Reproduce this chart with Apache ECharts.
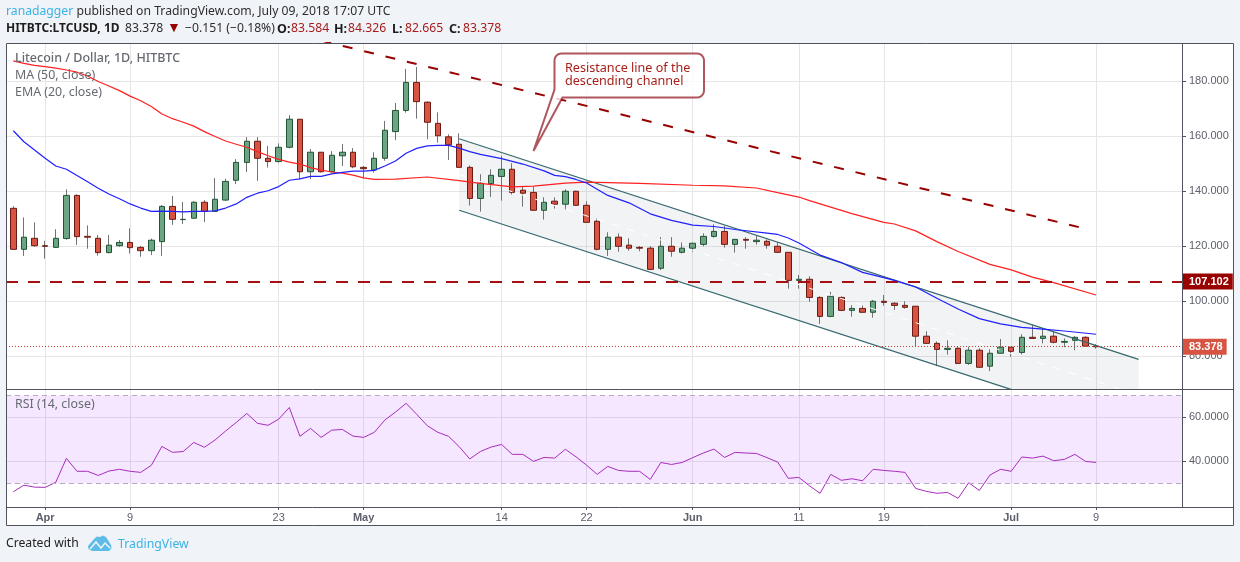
<!DOCTYPE html>
<html>
<head>
<meta charset="utf-8">
<title>LTCUSD</title>
<script src="https://cdn.jsdelivr.net/npm/echarts@6/dist/echarts.min.js"></script>
<style>
  html, body { margin: 0; padding: 0; background: #f0f3f7; }
  #chart { width: 1240px; height: 562px; }
</style>
</head>
<body>
<div id="chart"></div>
<script>
// daily bars, index 0 = Mar 29 2018, index 102 = Jul 9 2018
var opens = [133.7,118.8,122.8,120.1,119.5,122.7,138.4,123.5,122.8,117.6,120.1,121.3,119.5,118.3,121.6,134.4,129.6,130.1,135.9,132.6,136.7,143.9,150.4,158.1,151.9,150.7,155.9,166.1,147,154.1,147,152.8,154.1,148.6,147.7,151.9,161.6,169.3,179.5,172.3,164.6,159.7,157,148.6,137.3,142.7,145.3,147.9,140.3,139.5,133,136.3,135.2,139.9,134.8,129,118.8,123.2,120.3,119.5,119.2,111.9,119.9,117.7,119.2,120.6,123.5,125.3,120.6,122.4,121.6,121.7,119.9,117.7,107.5,107.9,101.3,94.4,101.3,96.6,97.3,95.9,99.9,99.2,98.4,98.1,87.2,84.6,82.4,82.8,77.3,82.1,76.3,81,83.2,81.3,86.8,86.4,87.2,85,85.7,86.8,83.584];
var closes = [118.8,123.2,120.1,119.9,122.8,138.4,123.4,123.2,117.6,120.3,121.3,119.4,118.3,122.1,134.4,129.7,129.7,135.9,132.6,137,143.5,150.4,158.1,151.9,150.7,155.9,166.1,147,154.1,147,153,154.1,148.8,148.1,151.9,162.1,169.3,179.5,172.5,165,160.1,156.8,148.6,137.3,142.8,145.7,147.9,139.5,139.2,133,135.9,135.2,139.9,134.8,128.6,118.8,123.2,119.9,119.2,119.2,111.5,119.9,118.1,119.2,121,123.5,125.3,120.6,122.4,122.1,122.1,120.3,117.7,107.5,107.9,101.3,94.4,101.7,96.6,97.3,95.9,99.9,99.5,98.4,97.7,87.2,84.6,82.4,82.8,77.3,82.1,75.9,81,83.2,81.7,86.8,86.4,87.2,85,85.3,86.8,83.6,83.378];
var lows = [118.8,116.4,119.7,115.4,119.4,122.3,120.4,119,116.5,117.3,119.7,117.3,116.1,116.7,116.4,127.7,128,130,128.7,132.4,136.4,142.5,146.9,143.7,148.5,150.3,155.5,144.3,144.3,146.7,146.8,149.1,148.3,144.5,146.7,151,158.5,168.5,166.3,158.8,157.6,151.3,148.6,134.7,132.5,137.8,136.5,138.7,134.3,132.9,129.6,133.6,133.2,134.7,128.5,118.4,116.4,117.9,118.3,118.1,111.4,111.2,116.1,117.3,117.9,119.9,123,119.4,117.6,119,120.5,119,117.6,104.5,104.5,99.7,91.7,94.1,96.3,94.3,95.7,93.9,98.3,96.8,97.2,83.6,84.6,76.3,80.5,77.3,76.8,75.9,74.5,81,79.7,80.6,86.2,84.6,84.6,83.2,82.1,83.6,82.665];
var highs = [134.5,130.4,128.6,121.9,126.1,140.6,138.8,127.5,124,124,122.2,126.4,120,122.7,134.9,138.2,136,136.3,136.7,144.7,144.5,151.6,159.6,159.6,156.4,157.3,167.6,166.1,155.3,154.1,154.5,157.1,155.6,149.1,154.1,165.5,172,184.4,185.1,172.6,168.6,160.6,161,149.3,146.1,147.9,152.8,150.1,141.6,141.6,137.7,137.7,140.6,140.1,136.3,130.1,125,124.6,122.8,120,120,123.2,123.2,121.3,121.2,124.6,127.9,127.3,122.6,123.2,123.9,122.4,121.3,117.7,109.5,109,101.7,103.3,101.7,98.5,98.5,100.4,102.2,99.5,99.9,98.1,89,85.3,85.7,83.6,83.4,82.8,82.4,86.2,83.2,87.9,91.4,90.1,89,86.4,87.2,87.2,84.326];

var maIndex = [0,1,2,3,4,5,6,7,8,9,10,11,12,13,14,15,16,17,18,19,20,21,22,23,24,25,26,27,28,29,30,31,32,33,34,36,39,42,44,47,49,52,54,59,64,67,70,72,74,75,79,82,83,85,87,89,92,94,96,98,102];
var maValues = [187.3,186.4,185.7,185.2,184.7,184,183.2,181.8,179.8,178.2,176.5,174.5,172.8,170.7,168,166.3,165,163.6,161.6,159.8,158.2,157,155.9,154.3,152.8,151.5,150.5,149.8,148.5,147.6,146.9,146.5,145.8,144.8,144.2,144.3,145.1,143.8,142.8,141.5,141.8,142.9,143.2,142.8,142.1,141.9,141.1,139.4,137.8,136.5,131.8,128.6,128,125.5,121.6,118,113.3,111.3,108.7,106.7,102.2];

var emaIndex = [0,1,2,3,4,5,6,7,8,9,10,11,12,13,14,15,16,17,18,19,20,21,22,23,24,25,26,27,28,29,30,31,32,33,34,35,36,37,38,39,40,41,42,43,44,46,48,50,51,52,53,54,56,58,60,62,64,66,68,71,72,73,74,76,78,80,82,83,85,87,89,91,93,95,97,99,102];
var emaValues = [161.9,157.9,154.9,151.9,149.1,147.9,145.6,143.4,141,138.9,137.2,135.3,133.8,132.6,132.7,132.6,132.4,132.6,132.6,132.8,133.8,135.3,137.7,139.2,140.1,141.6,143.9,144.4,145.3,145.3,146.2,146.8,147.2,147.2,147.5,149.1,150.9,153.7,155.5,156.4,156.6,156.6,155.6,154.3,153.3,151.8,149.8,147.3,145.7,145.2,144.2,142.9,138.4,135.7,131.7,129.3,127.6,127.1,126,124.7,124.2,122.9,121.1,116.7,114,110.4,108.5,107.5,105.1,101,97.1,93.6,91.7,90.4,89.8,89.1,87.9];

var rsiValues = [26.2,29.2,28.3,28.2,30.5,41.4,35.5,35.5,33.6,35.6,36.4,35.5,35,38.2,46.8,44.1,44.5,48.6,46.4,49.7,53.8,57.7,61.8,57.3,56.4,59.2,64.5,51.4,55,50.9,54.2,54.5,51.5,50.9,53.2,58.8,62.4,66.4,61.4,56.2,53.2,51.4,46.7,41.1,44.5,46.5,47.7,43.2,43.2,40,41.8,41.5,45.5,42.1,38.3,34.1,37.7,35.9,35.5,35.5,31.8,39.5,38.6,39.5,41.7,43.8,45.6,41.8,44.1,43.8,43.6,41.7,39.7,32.3,32.7,28.9,25.5,34.1,31.4,32.1,31.2,36.4,35.9,35.5,35,27.7,26.4,25.5,25.9,23.2,30.3,26.8,33.8,36.4,35.5,42,41.5,42.4,40.3,40.9,43.2,40,39.5];

// drawn lines on the chart: [bar index, price]
var channelIndex = [42, 106];
var channelUpper = [159, 78.8];
var channelLower = [133, 52.8];
var channelMiddle = [146, 65.8];
var trendIndex = [25, 100.86];
var trendPrice = [198.5, 126.4];
var supportPrice = 107.102;
var lastPrice = 83.378;

var tickIndex = [3, 11, 25, 33, 46, 54, 64, 74, 82, 94, 102];
var tickLabels = ['Apr', '9', '23', 'May', '14', '22', 'Jun', '11', '19', 'Jul', '9'];
var priceTicks = [80, 100, 120, 140, 160, 180];
var rsiTicks = [40, 60];

var axisFont = 'Liberation Sans, Arial, sans-serif';
var uiFont = 'Noto Sans, Open Sans, sans-serif';
var gridColor = '#e6e6e6';
var frameColor = '#50535e';

var ohlc = opens.map(function (o, i) { return [i, o, closes[i], lows[i], highs[i]]; });
var bodies = opens.map(function (o, i) {
  return [i, o, closes[i], Math.min(o, closes[i]), Math.max(o, closes[i])];
});

function pairs(xs, ys) {
  return xs.map(function (x, i) { return [x, ys[i]]; });
}

// outline of the callout, rounded corners as short polyline runs
function roundBox(l, t, r, b, rad) {
  var pts = [];
  [[r - rad, t + rad, -90], [r - rad, b - rad, 0]].forEach(function (c) { arc(pts, c, rad); });
  pts.push([562.5, b], [533.5, 151], [l, b - 8]);
  arc(pts, [l + rad, t + rad, 180], rad);
  return pts;
}
function arc(pts, c, rad) {
  for (var a = 0; a <= 90; a += 15) {
    var t = (c[2] + a) * Math.PI / 180;
    pts.push([c[0] + rad * Math.cos(t), c[1] + rad * Math.sin(t)]);
  }
}

function headerText(x, y, text, fill, weight, size) {
  return {
    type: 'text', z: 30, x: x, y: y,
    style: { text: text, fill: fill, fontFamily: uiFont, fontSize: size || 12.2, fontWeight: weight || 'normal' }
  };
}

var chart = echarts.init(document.getElementById('chart'), null, { renderer: 'canvas' });

var xBase = {
  type: 'value',
  min: -0.688,
  max: 110.09,
  axisLine: { show: false },
  splitLine: { show: true, lineStyle: { color: gridColor, width: 1 } }
};

chart.setOption({
  animation: false,
  backgroundColor: '#f0f3f7',
  grid: [
    { left: 6, top: 43, width: 1176, height: 346 },
    { left: 6, top: 389, width: 1176, height: 118 }
  ],
  xAxis: [
    Object.assign({}, xBase, {
      gridIndex: 0,
      axisTick: { show: false, customValues: tickIndex },
      axisLabel: { show: false }
    }),
    Object.assign({}, xBase, {
      gridIndex: 1,
      axisTick: { show: true, customValues: tickIndex, length: 3, lineStyle: { color: frameColor } },
      axisLabel: {
        customValues: tickIndex,
        margin: 5,
        formatter: function (v) {
          var label = tickLabels[tickIndex.indexOf(v)];
          return /[a-z]/i.test(label) ? '{m|' + label + '}' : label;
        },
        color: '#5d606b',
        fontFamily: axisFont,
        fontSize: 11,
        rich: { m: { fontWeight: 'bold', fontFamily: axisFont, fontSize: 11, color: '#5d606b' } }
      }
    })
  ],
  yAxis: [
    {
      type: 'value',
      gridIndex: 0,
      position: 'right',
      min: 68,
      max: 193.82,
      axisLine: { show: false },
      axisTick: { show: false, customValues: priceTicks },
      axisLabel: {
        customValues: priceTicks,
        margin: 7,
        padding: [2, 0, 0, 0],
        color: '#5d606b',
        fontFamily: axisFont,
        fontSize: 11,
        formatter: function (v) { return v.toFixed(3); }
      },
      splitLine: { show: true, lineStyle: { color: gridColor, width: 1 } }
    },
    {
      type: 'value',
      gridIndex: 1,
      position: 'right',
      min: 19.27,
      max: 72.9,
      axisLine: { show: false },
      axisTick: { show: false, customValues: rsiTicks },
      axisLabel: {
        customValues: rsiTicks,
        margin: 7,
        padding: [2, 0, 0, 0],
        color: '#5d606b',
        fontFamily: axisFont,
        fontSize: 11,
        formatter: function (v) { return v.toFixed(4); }
      },
      splitLine: { show: true, lineStyle: { color: gridColor, width: 1 } }
    }
  ],
  series: [
    {
      // channel fill
      type: 'custom',
      xAxisIndex: 0,
      yAxisIndex: 0,
      clip: true,
      silent: true,
      data: [[channelIndex[0], channelLower[0]]],
      renderItem: function (params, api) {
        return {
          type: 'polygon',
          shape: {
            points: [
              api.coord([channelIndex[0], channelUpper[0]]),
              api.coord([channelIndex[1], channelUpper[1]]),
              api.coord([channelIndex[1], channelLower[1]]),
              api.coord([channelIndex[0], channelLower[0]])
            ]
          },
          style: { fill: 'rgba(100,120,140,0.09)' }
        };
      }
    },
    {
      type: 'line',
      name: 'Channel middle',
      data: pairs(channelIndex, channelMiddle),
      symbol: 'none',
      lineStyle: { color: '#ffffff', width: 1, type: [8, 8] }
    },
    {
      type: 'line',
      name: 'Channel upper',
      data: pairs(channelIndex, channelUpper),
      symbol: 'none',
      lineStyle: { color: '#37696e', width: 1.3 }
    },
    {
      type: 'line',
      name: 'Channel lower',
      data: pairs(channelIndex, channelLower),
      symbol: 'none',
      lineStyle: { color: '#37696e', width: 1.3 }
    },
    {
      // wicks
      type: 'candlestick',
      name: 'Wicks',
      data: ohlc,
      barWidth: 1,
      itemStyle: { color: '#737375', color0: '#737375', borderColor: '#737375', borderColor0: '#737375', borderColorDoji: '#737375', borderWidth: 1 }
    },
    {
      type: 'candlestick',
      name: 'LTCUSD',
      data: bodies,
      barWidth: 6,
      itemStyle: { color: '#6ba583', color0: '#d75442', borderColor: '#225437', borderColor0: '#6b1a13', borderColorDoji: '#6b1a13', borderWidth: 1 }
    },
    {
      type: 'line',
      name: 'MA (50, close)',
      data: pairs(maIndex, maValues),
      symbol: 'none',
      lineStyle: { color: '#ff2020', width: 1.2 }
    },
    {
      type: 'line',
      name: 'EMA (20, close)',
      data: pairs(emaIndex, emaValues),
      symbol: 'none',
      lineStyle: { color: '#2020ff', width: 1.2 }
    },
    {
      type: 'line',
      name: 'Trend',
      data: pairs(trendIndex, trendPrice),
      symbol: 'none',
      lineStyle: { color: '#990000', width: 2, type: [10, 12] },
      markLine: {
        silent: true,
        symbol: 'none',
        animation: false,
        data: [
          {
            yAxis: supportPrice,
            lineStyle: { color: '#a80f12', width: 2, type: [12, 10] },
            label: {
              show: true,
              position: 'end',
              distance: 0,
              formatter: supportPrice.toFixed(3),
              color: '#ffffff',
              fontFamily: axisFont,
              fontSize: 11,
              fontWeight: 'bold',
              backgroundColor: '#990000',
              padding: [3, 4, 2, 7]
            }
          },
          {
            yAxis: lastPrice,
            lineStyle: { color: '#c8402f', width: 1, type: [1, 2] },
            label: {
              show: true,
              position: 'end',
              distance: 0,
              formatter: lastPrice.toFixed(3),
              color: '#ffffff',
              fontFamily: axisFont,
              fontSize: 11,
              fontWeight: 'bold',
              backgroundColor: '#d75442',
              padding: [3, 4, 2, 7]
            }
          }
        ]
      }
    },
    {
      type: 'line',
      name: 'RSI (14, close)',
      xAxisIndex: 1,
      yAxisIndex: 1,
      data: rsiValues.map(function (v, i) { return [i, v]; }),
      symbol: 'none',
      lineStyle: { color: '#a82cbc', width: 1 },
      markArea: {
        silent: true,
        itemStyle: { color: 'rgba(153,21,255,0.1)' },
        data: [[{ yAxis: 70 }, { yAxis: 30 }]]
      },
      markLine: {
        silent: true,
        symbol: 'none',
        label: { show: false },
        lineStyle: { color: '#b9a9c5', width: 1, type: [5, 4] },
        data: [{ yAxis: 70 }, { yAxis: 30 }]
      }
    }
  ],
  graphic: [
    { type: 'rect', z: -1, shape: { x: 6, y: 43, width: 1227, height: 482 }, style: { fill: '#ffffff' } },
    // frame and pane separators
    { type: 'rect', z: 20, silent: true, shape: { x: 6.5, y: 43.5, width: 1227, height: 482 }, style: { fill: 'none', stroke: frameColor, lineWidth: 1 } },
    { type: 'line', z: 20, silent: true, shape: { x1: 1182.5, y1: 43, x2: 1182.5, y2: 507 }, style: { stroke: frameColor, lineWidth: 1 } },
    { type: 'line', z: 20, silent: true, shape: { x1: 6, y1: 389.5, x2: 1233, y2: 389.5 }, style: { stroke: frameColor, lineWidth: 1 } },
    { type: 'line', z: 20, silent: true, shape: { x1: 6, y1: 507.5, x2: 1233, y2: 507.5 }, style: { stroke: frameColor, lineWidth: 1 } },
    // header
    {
      type: 'text', z: 30, x: 6, y: 6,
      style: {
        text: '{a|ranadagger}{k| published on TradingView.com, July 09, 2018 17:07 UTC}',
        rich: {
          a: { fill: '#3bb3e4', fontFamily: uiFont, fontSize: 12.2 },
          k: { fill: '#2e2e2e', fontFamily: uiFont, fontSize: 12.2 }
        }
      }
    },
    headerText(6, 23, 'HITBTC:LTCUSD, 1D', '#1e1e1e', 'bold', 12),
    headerText(125, 23, '83.378', '#2e2e2e'),
    headerText(167, 21, '▼', '#990000', 'normal', 14),
    headerText(185, 23, '−0.151 (−0.18%)', '#2e2e2e'),
    headerText(277, 23, 'O:', '#1e1e1e', 'bold', 12.5),
    headerText(291, 23, '83.584', '#a81c1c'),
    headerText(334, 23, 'H:', '#1e1e1e', 'bold', 12.5),
    headerText(348, 23, '84.326', '#a81c1c'),
    headerText(392, 23, 'L:', '#1e1e1e', 'bold', 12.5),
    headerText(405, 23, '82.665', '#a81c1c'),
    headerText(449, 23, 'C:', '#1e1e1e', 'bold', 12.5),
    headerText(463, 23, '83.378', '#a81c1c'),
    // pane legends
    { type: 'text', z: 30, x: 15, y: 52, style: { text: 'Litecoin / Dollar, 1D, HITBTC', fill: '#666a70', fontFamily: uiFont, fontSize: 12.5, fontWeight: 500 } },
    { type: 'text', z: 30, x: 15, y: 69, style: { text: 'MA (50, close)', fill: '#666a70', fontFamily: uiFont, fontSize: 12.4 } },
    { type: 'text', z: 30, x: 15, y: 86, style: { text: 'EMA (20, close)', fill: '#666a70', fontFamily: uiFont, fontSize: 12.4 } },
    { type: 'text', z: 30, x: 15, y: 398, style: { text: 'RSI (14, close)', fill: '#666a70', fontFamily: uiFont, fontSize: 12.4 } },
    // callout
    {
      type: 'polygon', z: 25,
      shape: { points: roundBox(554.5, 53.5, 704, 97.5, 7) },
      style: { fill: 'rgba(255,255,255,0.8)', stroke: 'rgba(150,30,40,0.75)', lineWidth: 2 }
    },
    { type: 'text', z: 26, x: 565, y: 62, style: { text: 'Resistance line of the\ndescending channel', fill: '#a8201a', fontFamily: uiFont, fontSize: 12.6, lineHeight: 13 } },
    // footer
    { type: 'text', z: 30, x: 6, y: 538, style: { text: 'Created with', fill: '#222222', fontFamily: uiFont, fontSize: 12.2 } },
    {
      type: 'polygon', z: 30,
      shape: { points: [[88, 546], [95, 538], [97, 536.5], [100, 537], [103, 535.5], [106, 537], [111, 545], [111.5, 548], [109, 551], [92, 551], [88.5, 549]] },
      style: { fill: '#5dbde8' }
    },
    {
      type: 'polyline', z: 31,
      shape: { points: [[90, 549], [96, 542], [101, 548], [105, 543], [110, 548]] },
      style: { stroke: '#f0f3f7', fill: 'none', lineWidth: 1.5 }
    },
    { type: 'text', z: 30, x: 118, y: 538, style: { text: 'TradingView', fill: '#3bb3e4', fontFamily: uiFont, fontSize: 12.3 } }
  ]
});

// short ticks on the right hand price scales
function scaleTicks(axisIndex, values) {
  return values.map(function (v) {
    var y = Math.round(chart.convertToPixel({ yAxisIndex: axisIndex }, v)) + 0.5;
    return { type: 'line', z: 20, silent: true, shape: { x1: 1183, y1: y, x2: 1186, y2: y }, style: { stroke: frameColor, lineWidth: 1 } };
  });
}
chart.setOption({
  graphic: scaleTicks(0, priceTicks).concat(scaleTicks(1, rsiTicks)).map(function (g, i) {
    g.id = 'tick' + i;
    return g;
  })
});
</script>
</body>
</html>
